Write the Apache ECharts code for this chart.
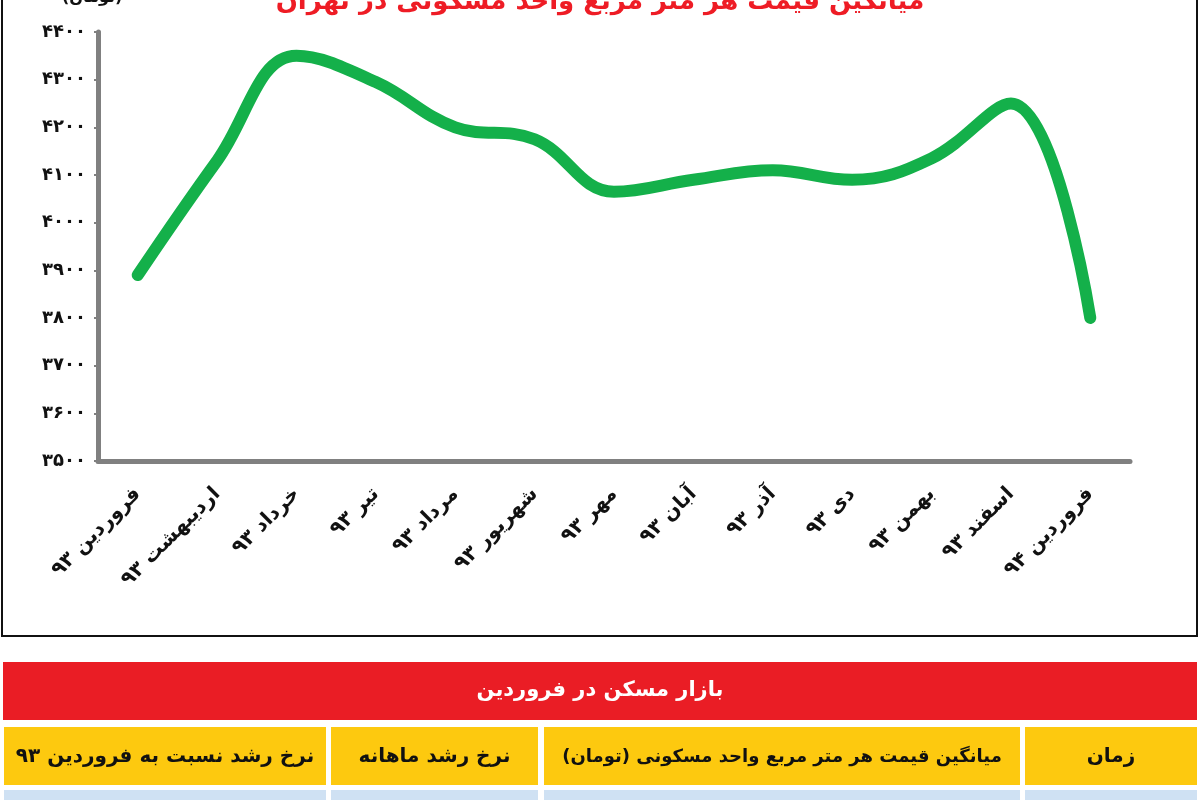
<!DOCTYPE html>
<html>
<head>
<meta charset="utf-8">
<script src="https://cdn.jsdelivr.net/npm/echarts@6/dist/echarts.min.js"></script>
<style>
  html, body { margin: 0; padding: 0; background: #fff; }
  #main { width: 1200px; height: 800px; }
</style>
</head>
<body>
<div id="main"></div>
<script>
var months = ['فروردین ۹۳', 'اردیبهشت ۹۳', 'خرداد ۹۳', 'تیر ۹۳', 'مرداد ۹۳', 'شهریور ۹۳', 'مهر ۹۳', 'آبان ۹۳', 'آذر ۹۳', 'دی ۹۳', 'بهمن ۹۳', 'اسفند ۹۳', 'فروردین ۹۴'];
var prices = [3890, 4130, 4350, 4295, 4200, 4175, 4065, 4090, 4110, 4090, 4135, 4250, 3800];
var yTicks = [3500, 4400, 100];
var tableTitle = 'بازار مسکن در فروردین';
var tableHead = ['نرخ رشد نسبت به فروردین ۹۳', 'نرخ رشد ماهانه', 'میانگین قیمت هر متر مربع واحد مسکونی (تومان)', 'زمان'];
var headX = [[4, 326], [331, 538], [544, 1020], [1025, 1197]];
var headSize = [20, 20, 18, 20];

var faDigits = '۰۱۲۳۴۵۶۷۸۹';
function toFa(n) {
  return String(n).replace(/[0-9]/g, function (d) { return faDigits[+d]; });
}

var chart = echarts.init(document.getElementById('main'));
var font = 'DejaVu Sans';

// frame + table under the chart
var graphics = [
  { type: 'rect', shape: { x: 2, y: -10, width: 1195, height: 646 }, style: { fill: 'none', stroke: '#111', lineWidth: 2 }, z: -1 },
  { type: 'text', left: 62, top: -10, style: { text: '(تومان)', font: 'bold 16px ' + font, fill: '#111' } },
  { type: 'rect', shape: { x: 3, y: 662, width: 1194, height: 58 }, style: { fill: '#ea1d25' } },
  { type: 'text', x: 600, y: 691, style: { text: tableTitle, font: 'bold 21px ' + font, fill: '#fff', align: 'center', verticalAlign: 'middle' } }
];
headX.forEach(function (c, i) {
  graphics.push({ type: 'rect', shape: { x: c[0], y: 727, width: c[1] - c[0], height: 58 }, style: { fill: '#fdc90f' } });
  graphics.push({ type: 'rect', shape: { x: c[0], y: 790, width: c[1] - c[0], height: 20 }, style: { fill: '#cfe1f3' } });
  graphics.push({ type: 'text', x: (c[0] + c[1]) / 2, y: 757, style: { text: tableHead[i], font: 'bold ' + headSize[i] + 'px ' + font, fill: '#111', align: 'center', verticalAlign: 'middle' } });
});

var option = {
  animation: false,
  title: {
    text: 'میانگین قیمت هر متر مربع واحد مسکونی در تهران',
    left: 'center',
    top: -16,
    textStyle: { color: '#ee1c25', fontSize: 26, fontWeight: 'bold', fontFamily: font }
  },
  grid: { left: 98, right: 70, top: 32, bottom: 339 },
  xAxis: {
    type: 'category',
    data: months,
    boundaryGap: true,
    axisLine: { lineStyle: { color: '#808080', width: 5 } },
    axisTick: { length: 4, lineStyle: { color: '#808080', width: 2 } },
    axisLabel: { rotate: 45, margin: 30, color: '#111', fontSize: 20, fontWeight: 'bold', fontFamily: font, interval: 0 }
  },
  yAxis: {
    type: 'value',
    min: yTicks[0],
    max: yTicks[1],
    interval: yTicks[2],
    splitLine: { show: false },
    axisLine: { show: true, lineStyle: { color: '#808080', width: 5 } },
    axisTick: { show: true, length: 4, lineStyle: { color: '#808080', width: 2 } },
    axisLabel: { margin: 12, color: '#111', fontSize: 18, fontWeight: 'bold', fontFamily: font, formatter: function (v) { return toFa(v); } }
  },
  series: [{
    type: 'line',
    data: prices,
    smooth: 0.4,
    showSymbol: false,
    lineStyle: { color: '#14b04a', width: 12, cap: 'round', join: 'round' }
  }],
  graphic: graphics
};
chart.setOption(option);
</script>
</body>
</html>
